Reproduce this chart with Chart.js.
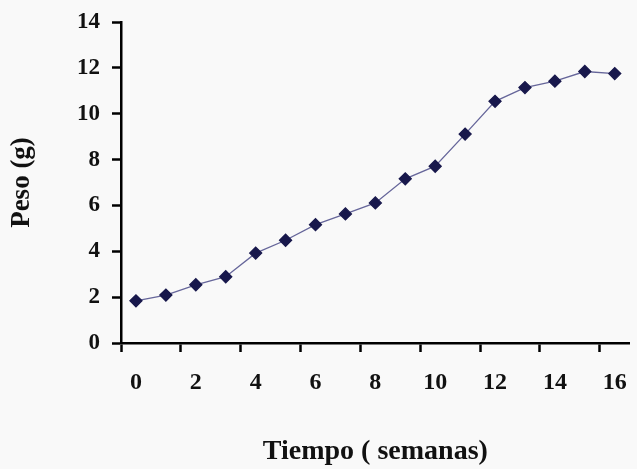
<!DOCTYPE html>
<html>
<head>
  <meta charset="UTF-8">
  <title>Peso vs Tiempo</title>
  <script src="https://cdn.jsdelivr.net/npm/chart.js"></script>
  <style>
    html, body { margin: 0; padding: 0; background: #f9f9f9; }
    #wrap { width: 637px; height: 469px; position: relative; }
  </style>
</head>
<body>
  <div id="wrap"><canvas id="pesoChart"></canvas></div>

  <script>
    // semanas 0..16
    const semanas = ['0','1','2','3','4','5','6','7','8','9','10','11','12','13','14','15','16'];
    const peso = [1.84, 2.09, 2.54, 2.89, 3.92, 4.48, 5.16, 5.63, 6.11, 7.16, 7.71, 9.11, 10.54, 11.14, 11.42, 11.84, 11.75];
    const yTicks = [0, 2, 4, 6, 8, 10, 12, 14];

    const serif = '"Liberation Serif", "Times New Roman", serif';

    new Chart(document.getElementById('pesoChart'), {
      type: 'line',
      data: {
        labels: semanas,
        datasets: [{
          data: peso,
          borderColor: '#66669a',
          borderWidth: 1.3,
          pointStyle: 'rectRot',
          pointRadius: 6,
          pointBackgroundColor: '#18184c',
          pointBorderColor: '#18184c',
          tension: 0
        }]
      },
      options: {
        responsive: true,
        maintainAspectRatio: false,
        animation: false,
        layout: { padding: { left: 6, top: 22, right: 2, bottom: 0 } },
        plugins: { legend: { display: false }, tooltip: { enabled: false } },
        scales: {
          x: {
            type: 'category',
            offset: true,
            // fixed box so the plot sits where the original does
            afterFit: s => { s.height = 126; s.paddingLeft = 0; s.paddingRight = 0; },
            border: { color: '#000', width: 2.5 },
            grid: {
              offset: true,
              drawOnChartArea: false,
              drawTicks: true,
              tickLength: 9,
              tickWidth: 2.5,
              tickColor: ctx => ctx.index % 2 === 0 ? '#000' : 'rgba(0,0,0,0)'
            },
            ticks: {
              autoSkip: false,
              maxRotation: 0,
              padding: 16,
              color: '#111',
              font: { family: serif, size: 24, weight: 'bold' },
              callback: (v, i) => i % 2 === 0 ? semanas[i] : ''
            },
            title: {
              display: true,
              text: 'Tiempo ( semanas)',
              color: '#111',
              padding: { top: 0, bottom: 0 },
              font: { family: serif, size: 28, weight: 'bold' }
            }
          },
          y: {
            min: 0,
            max: 14,
            afterBuildTicks: s => { s.ticks = yTicks.map(v => ({ value: v })); },
            afterFit: s => { s.width = 115; s.paddingTop = 0; s.paddingBottom = 0; },
            border: { color: '#000', width: 2.5 },
            grid: {
              drawOnChartArea: false,
              drawTicks: true,
              tickLength: 9,
              tickWidth: 2.5,
              tickColor: '#000'
            },
            ticks: {
              padding: 12,
              color: '#111',
              font: { family: serif, size: 23, weight: 'bold' }
            },
            title: {
              display: true,
              text: 'Peso (g)',
              color: '#111',
              padding: { top: 0, bottom: 0 },
              font: { family: serif, size: 27, weight: 'bold' }
            }
          }
        }
      }
    });
  </script>
</body>
</html>
